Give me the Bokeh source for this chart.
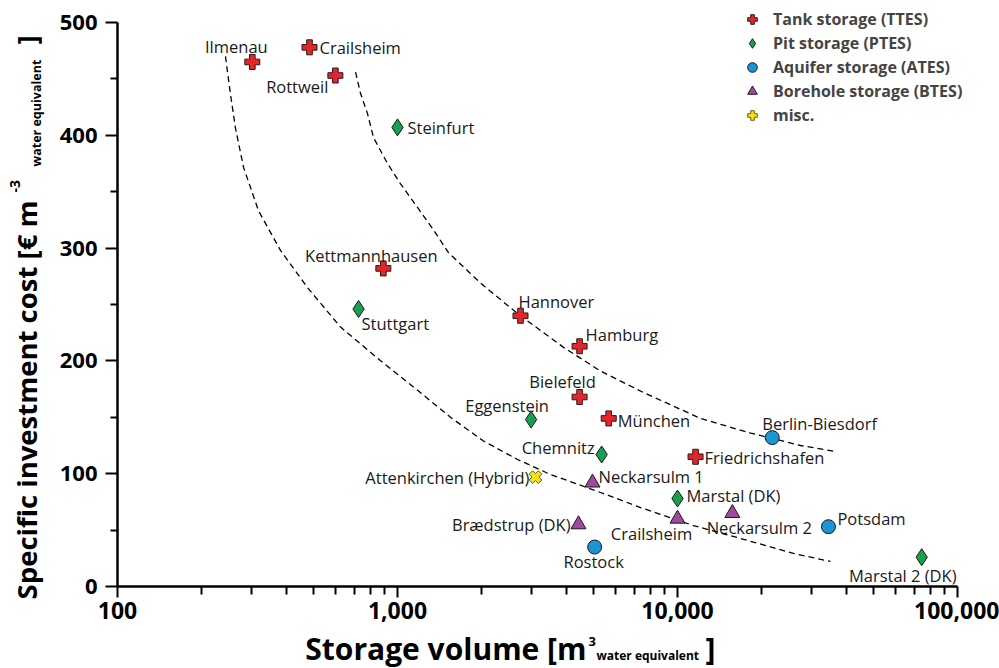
import math
from bokeh.plotting import figure
from bokeh.models import (ColumnDataSource, Range1d, FixedTicker, Label, Legend, LegendItem)
from bokeh.embed import file_html
from bokeh.resources import INLINE
from bokeh.core.properties import value

# ---------------- data ----------------
TTES_NAMES = ["Ilmenau", "Crailsheim", "Rottweil", "Kettmannhausen", "Hannover",
              "Hamburg", "Bielefeld", "München", "Friedrichshafen"]
TTES_VOLUME = [303, 485, 600, 890, 2750, 4470, 4470, 5680, 11600]
TTES_COST = [465, 478, 453, 282, 240, 213, 168, 149, 115]

PTES_NAMES = ["Steinfurt", "Stuttgart", "Eggenstein", "Chemnitz", "Marstal (DK)", "Marstal 2 (DK)"]
PTES_VOLUME = [1000, 726, 3000, 5360, 10000, 74500]
PTES_COST = [407, 246, 148, 117, 78, 26]

ATES_NAMES = ["Berlin-Biesdorf", "Potsdam", "Rostock"]
ATES_VOLUME = [21800, 34600, 5060]
ATES_COST = [132, 53, 35]

BTES_NAMES = ["Neckarsulm 1", "Brædstrup (DK)", "Crailsheim", "Neckarsulm 2"]
BTES_VOLUME = [4970, 4430, 10000, 15700]
BTES_COST = [92, 55, 60, 65]

MISC_NAMES = ["Attenkirchen (Hybrid)"]
MISC_VOLUME = [3110]
MISC_COST = [97]

TREND_LOW_VOLUME = [243, 253, 264, 282, 319, 382, 477, 626, 891, 1179, 1546, 2028, 2683,
                    3519, 5441, 7378, 11405, 16788, 25965, 35190]
TREND_LOW_COST = [470, 437, 406, 371.5, 333, 298, 265, 230, 198, 174, 150, 129, 112.6,
                  99.3, 82.4, 70, 54, 42.6, 29.3, 22.2]

TREND_HIGH_VOLUME = [708, 738, 782, 821, 921, 1025, 1179, 1345, 1521, 1979, 2683, 3916,
                     5309, 7560, 12085, 18230, 27500, 36070]
TREND_HIGH_COST = [456, 437, 419, 398, 375, 357, 336, 316, 296, 269, 242, 212,
                   191, 172, 149, 136, 125, 120]

X_TICKS = [100, 1000, 10000, 100000]
X_TICK_LABELS = ["100", "1,000", "10,000", "100,000"]
Y_TICKS = [0, 100, 200, 300, 400, 500]
Y_MINOR = [50, 150, 250, 350, 450]

LEGEND_LABELS = ["Tank storage (TTES)", "Pit storage (PTES)", "Aquifer storage (ATES)",
                 "Borehole storage (BTES)", "misc."]

# ---------------- layout / styling ----------------
FONT = "Open Sans"
W, H = 999, 668
# pixel geometry of the axes box inside the canvas
AX_LEFT, AX_RIGHT, AX_TOP, AX_BOTTOM = 117, 957, 22, 586
X_MIN, X_MAX, Y_MIN, Y_MAX = 100, 100000, 0, 500
px_per_dec = (AX_RIGHT - AX_LEFT) / (math.log10(X_MAX) - math.log10(X_MIN))
px_per_unit = (AX_BOTTOM - AX_TOP) / (Y_MAX - Y_MIN)
x_start = 10 ** (math.log10(X_MIN) - AX_LEFT / px_per_dec)
x_end = 10 ** (math.log10(X_MAX) + (W - AX_RIGHT) / px_per_dec)
y_start = Y_MIN - (H - AX_BOTTOM) / px_per_unit
y_end = Y_MAX + AX_TOP / px_per_unit

# (dx, dy, align) label placement relative to each marker, in pixels (dy down)
TTES_LBL = [(-16, -15, "center"), (10, 0, "left"), (-7, 11, "right"), (-12, -13, "center"),
            (-2, -14, "left"), (6, -12, "left"), (-17, -15, "center"), (9, 2, "left"), (9, 1, "left")]
PTES_LBL = [(10, 0, "left"), (3, 14, "left"), (-24, -14, "center"), (-7, -7, "right"),
            (9, -3, "left"), (-19, 18, "center")]
ATES_LBL = [(-10, -14, "left"), (9, -8, "left"), (-1, 14, "center")]
BTES_LBL = [(6, -6, "left"), (-8, 0, "right"), (-26, 15, "center"), (27, 14, "center")]
MISC_LBL = [(-6, 0, "right")]

p = figure(width=W, height=H, x_axis_type="log",
           x_range=Range1d(x_start, x_end), y_range=Range1d(y_start, y_end),
           output_backend="svg", toolbar_location=None,
           min_border_left=0, min_border_right=0, min_border_top=0, min_border_bottom=0)
p.outline_line_color = None
p.xgrid.visible = False
p.ygrid.visible = False
p.background_fill_color = "white"
p.border_fill_color = "white"

# axes (fixed inside the full-canvas frame)
minor_x = [m * d for d in (100, 1000, 10000) for m in range(2, 10)]
p.xaxis.ticker = FixedTicker(ticks=X_TICKS, minor_ticks=minor_x)
p.xaxis.major_label_overrides = {t: l for t, l in zip(X_TICKS, X_TICK_LABELS)}
p.yaxis.ticker = FixedTicker(ticks=Y_TICKS, minor_ticks=Y_MINOR)
p.xaxis.fixed_location = Y_MIN
p.yaxis.fixed_location = X_MIN
p.xaxis.bounds = (X_MIN, X_MAX)
p.yaxis.bounds = (Y_MIN, Y_MAX)
for ax in (p.xaxis, p.yaxis):
    ax.axis_line_width = 2.5
    ax.axis_line_color = "black"
    ax.major_tick_line_width = 2
    ax.minor_tick_line_width = 2
    ax.major_tick_line_color = "black"
    ax.minor_tick_line_color = "black"
    ax.major_tick_in = 0
    ax.minor_tick_in = 0
    ax.major_label_text_font = FONT
    ax.major_label_text_font_style = "bold"
    ax.major_label_text_color = "black"
p.xaxis.major_label_text_font_size = "23px"
p.yaxis.major_label_text_font_size = "22px"
p.xaxis.major_tick_out = 11
p.xaxis.minor_tick_out = 8
p.xaxis.major_label_standoff = 4
p.yaxis.major_tick_out = 12
p.yaxis.minor_tick_out = 7
p.yaxis.major_label_standoff = 8

# trend lines
p.line(TREND_LOW_VOLUME, TREND_LOW_COST, line_color="black", line_width=1.3, line_dash="6 4")
p.line(TREND_HIGH_VOLUME, TREND_HIGH_COST, line_color="black", line_width=1.3, line_dash="6 4")

# markers
r_ttes = p.scatter(TTES_VOLUME, TTES_COST, marker="plus", size=15,
                   fill_color="#e3262d", line_color="#2a1a1a", line_width=1)
r_ptes = p.scatter(PTES_VOLUME, PTES_COST, marker="diamond", size=17,
                   fill_color="#16a04f", line_color="#1a1a1a", line_width=1)
r_ates = p.scatter(ATES_VOLUME, ATES_COST, marker="circle", size=14,
                   fill_color="#1b95d3", line_color="#1a1a1a", line_width=1)
r_btes = p.scatter(BTES_VOLUME, BTES_COST, marker="triangle", size=15,
                   fill_color="#a04a9c", line_color="#1a1a1a", line_width=1)
r_misc = p.scatter(MISC_VOLUME, MISC_COST, marker="plus", size=13, angle=math.pi / 4,
                   fill_color="#f6e21c", line_color="#6b5e00", line_width=1)

# point labels
lx, ly, lt, ldx, ldy, lal = [], [], [], [], [], []
for names, xs, ys, pl in [(TTES_NAMES, TTES_VOLUME, TTES_COST, TTES_LBL),
                          (PTES_NAMES, PTES_VOLUME, PTES_COST, PTES_LBL),
                          (ATES_NAMES, ATES_VOLUME, ATES_COST, ATES_LBL),
                          (BTES_NAMES, BTES_VOLUME, BTES_COST, BTES_LBL),
                          (MISC_NAMES, MISC_VOLUME, MISC_COST, MISC_LBL)]:
    for n, xv, yv, (dx, dy, al) in zip(names, xs, ys, pl):
        lx.append(xv); ly.append(yv); lt.append(n)
        ldx.append(dx); ldy.append(dy); lal.append(al)
lsrc = ColumnDataSource(dict(x=lx, y=ly, text=lt, dx=ldx, dy=ldy, align=lal))
p.text(x="x", y="y", text="text", x_offset="dx", y_offset="dy", text_align="align",
       source=lsrc, text_baseline="middle", text_font=value(FONT),
       text_font_size="16.5px", text_color="#1a1a1a")

# legend (location in pixels from the bottom-left of the canvas-wide frame)
legend = Legend(items=[LegendItem(label=l, renderers=[r]) for l, r in
                       zip(LEGEND_LABELS, [r_ttes, r_ptes, r_ates, r_btes, r_misc])],
                location=(740, 541), border_line_color=None, background_fill_alpha=0,
                label_text_font=FONT, label_text_font_style="bold",
                label_text_font_size="16px", label_height=24, glyph_height=24,
                glyph_width=24, spacing=0, padding=5, margin=0, label_standoff=9)
p.add_layout(legend, "center")


# axis titles (pieces for super/subscripts), placed by canvas pixel position
def lab(text, cx, cy, size, align="left", angle=0.0):
    p.add_layout(Label(x=cx, y=H - cy, x_units="screen", y_units="screen", text=text,
                       text_font=FONT, text_font_size=size, text_font_style="bold",
                       text_align=align, text_baseline="alphabetic",
                       angle=angle, text_color="black"))


lab("Storage volume [m", 586, 648, "30px", align="right")
lab("3", 588, 641, "13px")
lab("water equivalent", 596, 655, "12px")
lab("]", 705, 648, "30px")

A = math.pi / 2
lab("Specific investment cost [€ m", 26, 200, "27.5px", align="right", angle=A)
lab("-3", 14, 192, "14px", angle=A)
lab("water equivalent", 36, 166, "12.5px", angle=A)
lab("]", 26, 44, "27.5px", angle=A)

open("out.html", "w").write(file_html(p, INLINE))
